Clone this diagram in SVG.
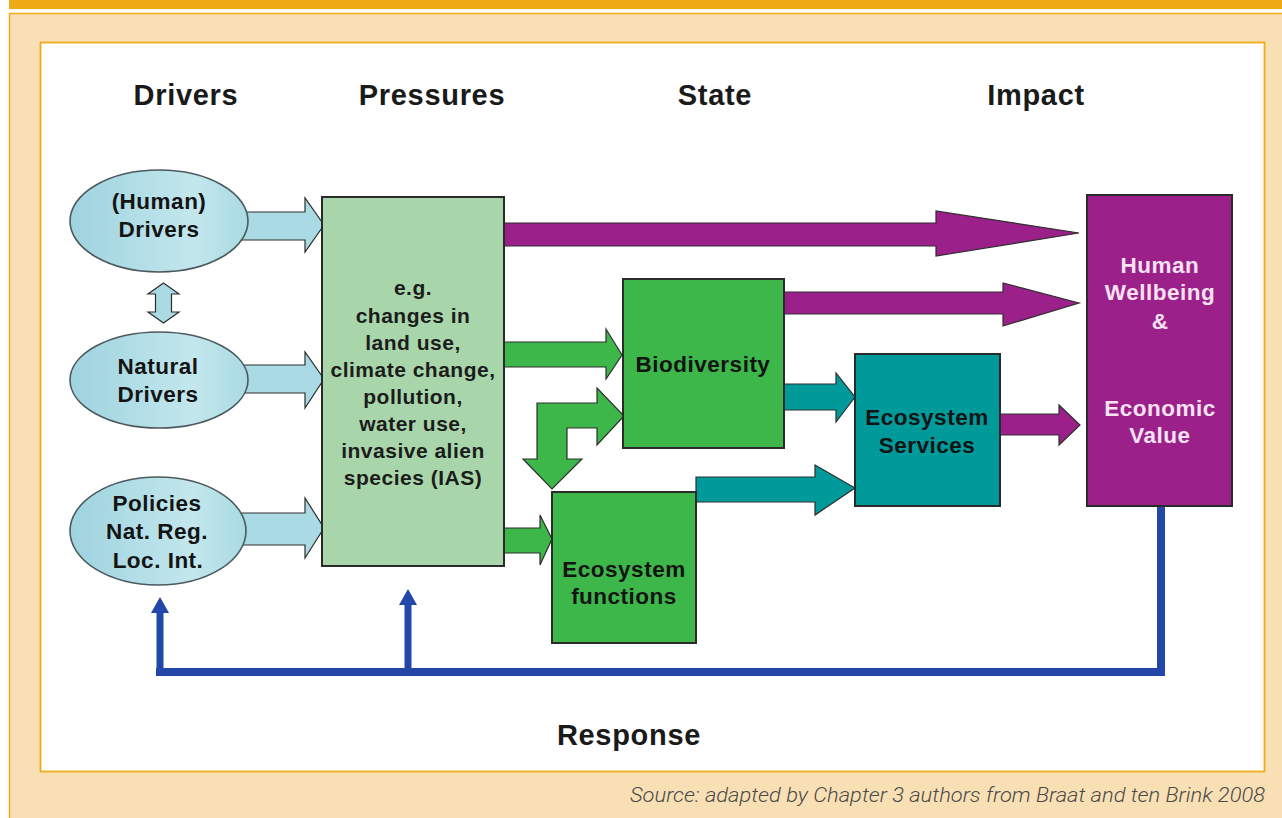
<svg xmlns="http://www.w3.org/2000/svg" width="1282" height="818" viewBox="0 0 1282 818">
  <style>
    .hdr { font-family: "Liberation Sans", Arial, sans-serif; font-weight: bold; font-size: 29px; letter-spacing: 0.7px; fill: #1a1a1a; text-anchor: middle; }
    .lbl { font-family: "Liberation Sans", Arial, sans-serif; font-weight: bold; font-size: 22.5px; letter-spacing: 0.5px; fill: #141414; text-anchor: middle; }
    .prs { font-family: "Liberation Sans", Arial, sans-serif; font-weight: bold; font-size: 21px; letter-spacing: 0.5px; fill: #1c1c1c; text-anchor: middle; }
    .wht { fill: #f6e2f0; }
    .ell { fill: url(#ellFill); stroke: #4a5a5e; stroke-width: 1.6; }
    .box { stroke: #2a2a2a; stroke-width: 2; }
    .arr { stroke: #2e2e2e; stroke-width: 1.2; stroke-linejoin: miter; }
    .lblue { fill: #aadae3; }
    .pale { fill: #a8d6aa; }
    .green { fill: #3db64a; }
    .teal { fill: #009a9b; }
    .purple { fill: #9c208a; }
    .resp { stroke: #2347a6; fill: none; }
    .src { font-family: "Roboto", "Liberation Sans", Arial, sans-serif; font-weight: 300; font-style: italic; font-size: 20px; fill: #4a4a4a; }
  </style>
  <defs>
    <linearGradient id="ellFill" x1="0" y1="0" x2="1" y2="0">
      <stop offset="0" stop-color="#9ed3df"/>
      <stop offset="0.7" stop-color="#c3e7ed"/>
      <stop offset="1" stop-color="#a9dae2"/>
    </linearGradient>
    <!-- small arrowhead for the response lines, drawn along +x -->
    <marker id="blueHead" viewBox="0 0 16 18" refX="2" refY="9" markerWidth="16" markerHeight="18" markerUnits="userSpaceOnUse" orient="auto">
      <path d="M0,0 L16,9 L0,18 Z" fill="#2347a6"/>
    </marker>
  </defs>

  <!-- page frame -->
  <rect x="0" y="0" width="1282" height="818" fill="#ffffff"/>
  <rect x="9" y="0" width="1273" height="9" fill="#efaa18"/>
  <rect x="9.5" y="13.5" width="1280" height="810" fill="#f8e0b4" stroke="#efaa18" stroke-width="1.5"/>
  <rect x="40.5" y="42.5" width="1224" height="729" fill="#ffffff" stroke="#efaa18" stroke-width="1.8"/>

  <!-- column headings -->
  <g id="headings">
    <text class="hdr" x="186" y="105">Drivers</text>
    <text class="hdr" x="432" y="105">Pressures</text>
    <text class="hdr" x="715" y="105">State</text>
    <text class="hdr" x="1036" y="105">Impact</text>
  </g>

  <!-- connectors -->
  <g id="connectors">
    <!-- drivers to pressures -->
    <path class="arr lblue" d="M238,212 H305 V198 L324,225 L305,252 V240 H238 Z"/>
    <path class="arr lblue" d="M238,365 H305 V352 L324,379 L305,408 V393 H238 Z"/>
    <path class="arr lblue" d="M238,513 H305 V498 L324,528 L305,558 V545 H238 Z"/>
    <!-- human <-> natural drivers -->
    <path class="arr lblue" d="M163.5,283 L179,294 H171.5 V312 H179 L163.5,323 L148,312 H155.5 V294 H148 Z"/>
    <!-- pressures to impact -->
    <path class="arr purple" d="M504,223 H936 V211 L1079,233 L936,256 V246 H504 Z"/>
    <!-- pressures to biodiversity / functions -->
    <path class="arr green" d="M504,342 H606 V329 L622,355 L606,379 V367 H504 Z"/>
    <path class="arr green" d="M504,528 H540 V515 L552,539 L540,565 V553 H504 Z"/>
    <!-- biodiversity <-> ecosystem functions -->
    <path class="arr green" d="M537,403 H597 V388 L624,416 L597,445 V428 H567 V459 H582 L552,489 L523,459 H537 Z"/>
    <!-- biodiversity to impact -->
    <path class="arr purple" d="M784,292 H1003 V283 L1079,303 L1003,326 V314 H784 Z"/>
    <!-- state to ecosystem services -->
    <path class="arr teal" d="M784,384 H836 V373 L855,397 L836,422 V410 H784 Z"/>
    <path class="arr teal" d="M696,477 H815 V465 L855,488 L815,515 V502 H696 Z"/>
    <!-- ecosystem services to impact -->
    <path class="arr purple" d="M1000,414 H1059 V405 L1080,425 L1059,445 V435 H1000 Z"/>
    <!-- response feedback -->
    <path class="resp" stroke-width="8" d="M1161,506 V672 H156"/>
    <line class="resp" stroke-width="7" x1="160" y1="675" x2="160" y2="611" marker-end="url(#blueHead)"/>
    <line class="resp" stroke-width="7" x1="408" y1="675" x2="408" y2="603" marker-end="url(#blueHead)"/>
  </g>

  <!-- driver nodes -->
  <g id="human-drivers">
    <ellipse class="ell" cx="159" cy="221" rx="89" ry="51"/>
    <text class="lbl" x="159" y="209">(Human)</text>
    <text class="lbl" x="159" y="237">Drivers</text>
  </g>
  <g id="natural-drivers">
    <ellipse class="ell" cx="159" cy="380" rx="89" ry="48"/>
    <text class="lbl" x="158" y="374">Natural</text>
    <text class="lbl" x="158" y="402">Drivers</text>
  </g>
  <g id="policies">
    <ellipse class="ell" cx="158" cy="531" rx="88" ry="54"/>
    <text class="lbl" x="157" y="511">Policies</text>
    <text class="lbl" x="157" y="539">Nat. Reg.</text>
    <text class="lbl" x="158" y="568">Loc. Int.</text>
  </g>

  <!-- pressures node -->
  <g id="pressures">
    <rect class="box pale" x="322" y="197" width="182" height="369"/>
    <text class="prs" x="413" y="295">e.g.</text>
    <text class="prs" x="413" y="323">changes in</text>
    <text class="prs" x="413" y="350">land use,</text>
    <text class="prs" x="413" y="377">climate change,</text>
    <text class="prs" x="413" y="404">pollution,</text>
    <text class="prs" x="413" y="431">water use,</text>
    <text class="prs" x="413" y="458">invasive alien</text>
    <text class="prs" x="413" y="485">species (IAS)</text>
  </g>

  <!-- state nodes -->
  <g id="biodiversity">
    <rect class="box green" x="623" y="279" width="161" height="169"/>
    <text class="lbl" x="703" y="372">Biodiversity</text>
  </g>
  <g id="ecosystem-functions">
    <rect class="box green" x="552" y="492" width="144" height="151"/>
    <text class="lbl" x="624" y="577">Ecosystem</text>
    <text class="lbl" x="624" y="604">functions</text>
  </g>
  <g id="ecosystem-services">
    <rect class="box teal" x="855" y="354" width="145" height="152"/>
    <text class="lbl" x="927" y="425">Ecosystem</text>
    <text class="lbl" x="927" y="453">Services</text>
  </g>

  <!-- impact node -->
  <g id="wellbeing">
    <rect class="box purple" x="1087" y="195" width="145" height="311"/>
    <text class="lbl wht" x="1160" y="273">Human</text>
    <text class="lbl wht" x="1160" y="300">Wellbeing</text>
    <text class="lbl wht" x="1160" y="329">&amp;</text>
    <text class="lbl wht" x="1160" y="416">Economic</text>
    <text class="lbl wht" x="1160" y="443">Value</text>
  </g>

  <!-- response label -->
  <g id="response">
    <text class="hdr" x="629" y="745">Response</text>
  </g>

  <text class="src" x="1265" y="802" text-anchor="end" textLength="635" lengthAdjust="spacingAndGlyphs">Source: adapted by Chapter 3 authors from Braat and ten Brink 2008</text>
</svg>
